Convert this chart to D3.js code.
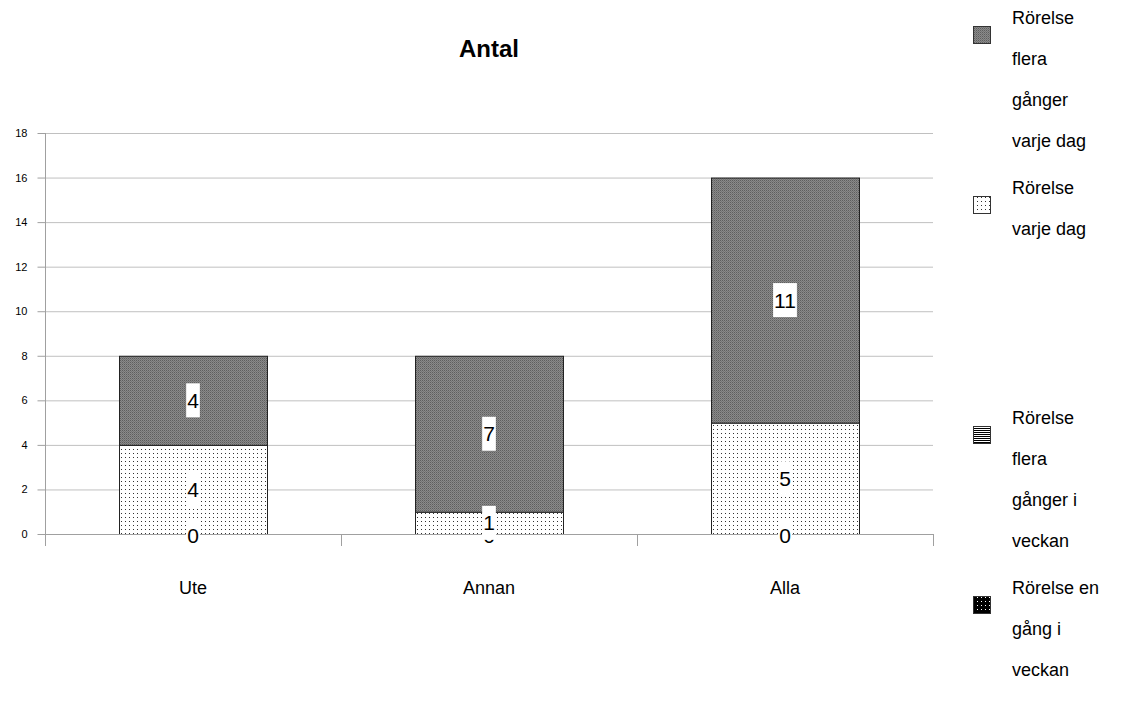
<!DOCTYPE html>
<html>
<head>
<meta charset="utf-8">
<script src="https://cdn.jsdelivr.net/npm/d3@7"></script>
<style>
  html, body { margin: 0; padding: 0; background: #fff; }
  svg { display: block; font-family: "Liberation Sans", Arial, sans-serif; }
</style>
</head>
<body>
<svg id="chart" width="1136" height="718"></svg>
<script>
// Categories and series (stacked bottom to top)
const categories = ["Ute", "Annan", "Alla"];
const seriesNames = [
  "Rörelse en gång i veckan",
  "Rörelse flera gånger i veckan",
  "Rörelse varje dag",
  "Rörelse flera gånger varje dag"
];
const enGangIVeckan = [0, 0, 0];
const fleraGangerIVeckan = [0, 0, 0];
const varjeDag = [4, 1, 5];
const fleraGangerVarjeDag = [4, 7, 11];
const yTicks = [0, 2, 4, 6, 8, 10, 12, 14, 16, 18];

// Legend text, wrapped as lines (top entry first)
const legendLines = [
  ["Rörelse", "flera", "gånger", "varje dag"],
  ["Rörelse", "varje dag"],
  ["Rörelse", "flera", "gånger i", "veckan"],
  ["Rörelse en", "gång i", "veckan"]
];

const seriesValues = [enGangIVeckan, fleraGangerIVeckan, varjeDag, fleraGangerVarjeDag];
const rows = categories.map((c, i) => {
  const r = { cat: c };
  seriesNames.forEach((s, k) => r[s] = seriesValues[k][i]);
  return r;
});

const svg = d3.select("#chart");
const plot = { left: 45, right: 933, top: 133, bottom: 534 };

// Fill patterns for each series
const defs = svg.append("defs");
function pattern(id, size, bg, draw) {
  const p = defs.append("pattern").attr("id", id)
    .attr("patternUnits", "userSpaceOnUse").attr("width", size).attr("height", size);
  p.append("rect").attr("width", size).attr("height", size).attr("fill", bg);
  draw(p);
}
pattern("pEnGang", 4, "#000", p => p.append("rect").attr("x", 1).attr("y", 1).attr("width", 1).attr("height", 1).attr("fill", "#fff"));
pattern("pFleraVecka", 2, "#fff", p => p.append("rect").attr("x", 0).attr("y", 0).attr("width", 2).attr("height", 1).attr("fill", "#000"));
pattern("pVarjeDag", 4, "#fff", p => p.append("rect").attr("x", 1).attr("y", 1).attr("width", 1).attr("height", 1).attr("fill", "#333"));
pattern("pFleraDag", 2, "#8a8a8a", p => {
  p.append("rect").attr("x", 0).attr("y", 0).attr("width", 1).attr("height", 1).attr("fill", "#5e5e5e");
  p.append("rect").attr("x", 1).attr("y", 1).attr("width", 1).attr("height", 1).attr("fill", "#747474");
});
const fills = ["url(#pEnGang)", "url(#pFleraVecka)", "url(#pVarjeDag)", "url(#pFleraDag)"];

const x = d3.scaleBand().domain(categories).range([plot.left, plot.right]).paddingInner(0.5).paddingOuter(0.25);
const y = d3.scaleLinear().domain([0, 18]).range([plot.bottom, plot.top]);

// Gridlines
svg.append("g").selectAll("line").data(yTicks.filter(t => t > 0)).join("line")
  .attr("x1", plot.left).attr("x2", plot.right)
  .attr("y1", d => y(d) + 0.5).attr("y2", d => y(d) + 0.5)
  .attr("stroke", "#c0c0c0").attr("stroke-width", 1);

// Y axis
const yAxis = svg.append("g").attr("transform", `translate(${plot.left + 0.5},0)`)
  .call(d3.axisLeft(y).tickValues(yTicks).tickSize(8).tickPadding(10).tickFormat(d3.format("d")));
yAxis.select(".domain").remove();
yAxis.selectAll(".tick line").attr("stroke", "#a0a0a0");
yAxis.selectAll(".tick text").attr("font-size", 11).attr("fill", "#000")
  .attr("font-family", "Liberation Sans, Arial, sans-serif");
svg.append("line").attr("x1", plot.left + 0.5).attr("x2", plot.left + 0.5)
  .attr("y1", plot.top).attr("y2", plot.bottom + 12).attr("stroke", "#a0a0a0");

// Stacked bars
const stack = d3.stack().keys(seriesNames)(rows);
const layers = svg.append("g").selectAll("g").data(stack).join("g")
  .attr("fill", (d, i) => fills[i]);
layers.selectAll("rect").data(d => d).join("rect")
  .attr("x", d => x(d.data.cat) + 0.5)
  .attr("y", d => y(d[1]) + 0.5)
  .attr("width", x.bandwidth())
  .attr("height", d => y(d[0]) - y(d[1]))
  .attr("stroke", d => (d[1] - d[0]) > 0 ? "#222" : "none")
  .attr("stroke-width", 1);

// X axis
const xAxisG = svg.append("g");
xAxisG.append("line").attr("x1", plot.left).attr("x2", plot.right)
  .attr("y1", plot.bottom + 0.5).attr("y2", plot.bottom + 0.5).attr("stroke", "#a0a0a0");
const bounds = [plot.left].concat(categories.map(c => x(c) + x.bandwidth() + x.step() * 0.25));
xAxisG.selectAll("line.tk").data(bounds).join("line").attr("class", "tk")
  .attr("x1", d => Math.round(d) + 0.5).attr("x2", d => Math.round(d) + 0.5)
  .attr("y1", plot.bottom).attr("y2", plot.bottom + 12).attr("stroke", "#a0a0a0");
xAxisG.selectAll("text").data(categories).join("text")
  .attr("x", d => x(d) + x.bandwidth() / 2).attr("y", 594)
  .attr("text-anchor", "middle").attr("font-size", 18).text(d => d);

// Value labels with white boxes (zero-height segments sit on the baseline)
const labelG = svg.append("g");
stack.forEach(layer => {
  layer.forEach(d => {
    const v = d[1] - d[0];
    const cx = x(d.data.cat) + x.bandwidth() / 2;
    const cy = y((d[0] + d[1]) / 2) + (v === 0 ? 1 : 0);
    const g = labelG.append("g");
    const t = g.append("text").attr("x", cx).attr("y", cy + 7.5)
      .attr("text-anchor", "middle").attr("font-size", 21).text(v);
    const w = t.node().getComputedTextLength();
    g.insert("rect", "text").attr("x", cx - w / 2 - 1).attr("y", cy - 17)
      .attr("width", w + 2).attr("height", 34).attr("fill", "#fff");
  });
});

// Title
svg.append("text").attr("x", 489).attr("y", 57).attr("text-anchor", "middle")
  .attr("font-size", 24).attr("font-weight", "bold").text("Antal");

// Legend
const legendTops = [18, 188, 418, 588];
const legendFills = [fills[3], fills[2], fills[1], fills[0]];
const lg = svg.append("g");
legendLines.forEach((lines, i) => {
  lg.append("rect").attr("x", 973.5).attr("y", legendTops[i] + 8.5)
    .attr("width", 17).attr("height", 17).attr("fill", legendFills[i]).attr("stroke", "#333");
  lines.forEach((ln, j) => {
    lg.append("text").attr("x", 1012).attr("y", legendTops[i] + j * 41 + 6)
      .attr("font-size", 18).text(ln);
  });
});
</script>
</body>
</html>
